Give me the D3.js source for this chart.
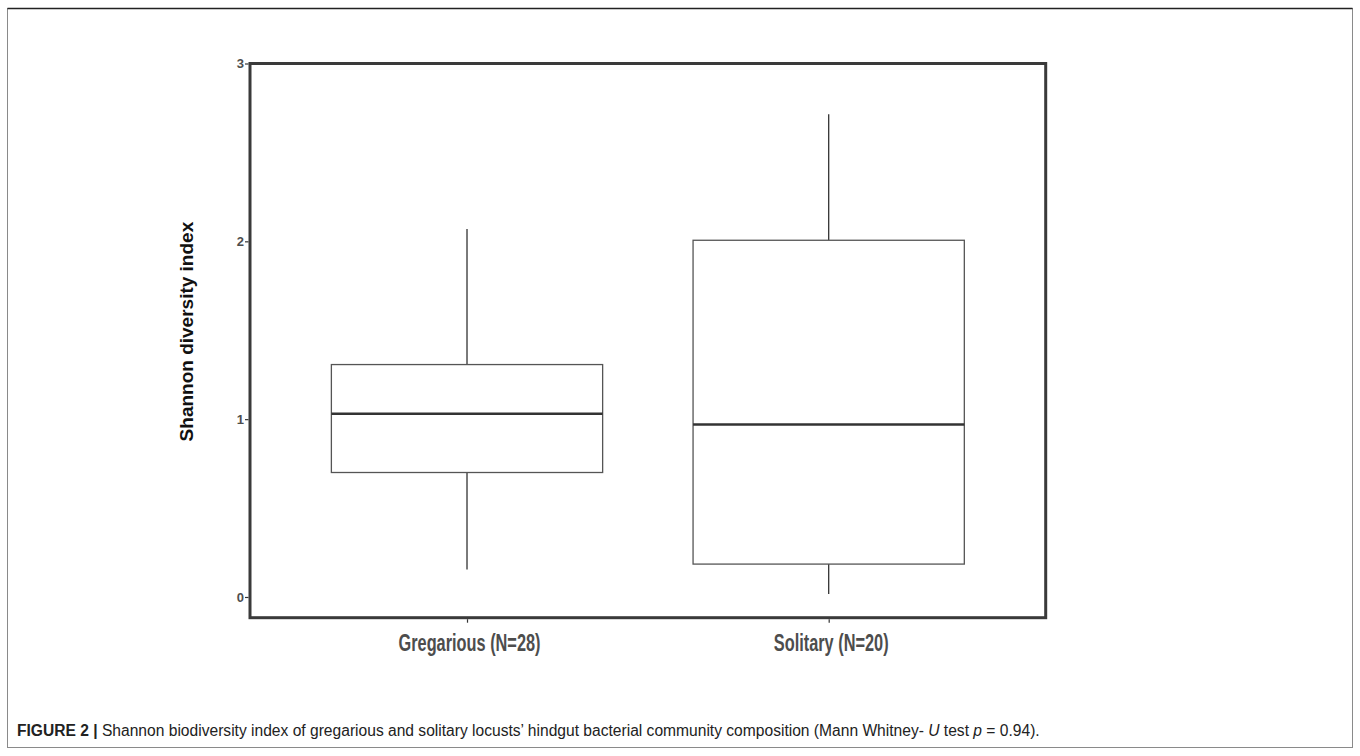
<!DOCTYPE html>
<html>
<head>
<meta charset="utf-8">
<script src="https://cdn.jsdelivr.net/npm/d3@7"></script>
<style>
  html, body { margin: 0; padding: 0; background: #fff; }
  svg { display: block; }
</style>
</head>
<body>
<svg id="chart" width="1360" height="756"></svg>
<script>
// ---- data ----
const groups = ["Gregarious (N=28)", "Solitary (N=20)"];
const whiskerLow = [0.155, 0.017];
const q1 = [0.70, 0.185];
const median = [1.03, 0.97];
const q3 = [1.307, 2.006];
const whiskerHigh = [2.07, 2.715];
const yTicks = [0, 1, 2, 3];
const yTitle = "Shannon diversity index";

const data = groups.map((g, i) => ({
  g, lo: whiskerLow[i], q1: q1[i], med: median[i], q3: q3[i], hi: whiskerHigh[i]
}));

const svg = d3.select("#chart");

// outer figure border
svg.append("rect").attr("x", 7.5).attr("y", 8.5).attr("width", 1345).attr("height", 739)
  .attr("fill", "none").attr("stroke", "#8a8a8a").attr("stroke-width", 1);
svg.append("line").attr("x1", 7.5).attr("x2", 1352.5).attr("y1", 8.5).attr("y2", 8.5)
  .attr("stroke", "#222").attr("stroke-width", 1.3);

const panel = { left: 250, right: 1045.7, top: 63.5, bottom: 617.7 };

const y = d3.scaleLinear().domain([-0.1165, 3.0]).range([panel.bottom, panel.top]);
const x = d3.scalePoint().domain(groups).range([panel.left, panel.right]).padding(0.6);
const bw = x.step() * 0.75;

const narrow = "'Liberation Sans', Arial, sans-serif";

const g = svg.append("g");

data.forEach(d => {
  const cx = x(d.g);
  // whiskers
  g.append("line").attr("x1", cx).attr("x2", cx).attr("y1", y(d.q3)).attr("y2", y(d.hi))
    .attr("stroke", "#333").attr("stroke-width", 1.3);
  g.append("line").attr("x1", cx).attr("x2", cx).attr("y1", y(d.q1)).attr("y2", y(d.lo))
    .attr("stroke", "#333").attr("stroke-width", 1.3);
  // box
  g.append("rect").attr("x", cx - bw / 2).attr("y", y(d.q3)).attr("width", bw)
    .attr("height", y(d.q1) - y(d.q3))
    .attr("fill", "#fff").attr("stroke", "#555").attr("stroke-width", 1.3);
  // median
  g.append("line").attr("x1", cx - bw / 2).attr("x2", cx + bw / 2).attr("y1", y(d.med)).attr("y2", y(d.med))
    .attr("stroke", "#333").attr("stroke-width", 2.4);
});

// panel border
svg.append("rect").attr("x", panel.left).attr("y", panel.top)
  .attr("width", panel.right - panel.left).attr("height", panel.bottom - panel.top)
  .attr("fill", "none").attr("stroke", "#3a3a3a").attr("stroke-width", 3);

// y axis
const yAxis = svg.append("g").attr("transform", `translate(${panel.left - 1.5},0)`)
  .call(d3.axisLeft(y).tickValues(yTicks).tickFormat(d3.format("d")).tickSize(3.5).tickPadding(1));
yAxis.select(".domain").remove();
yAxis.selectAll("line").attr("stroke", "#333").attr("stroke-width", 1.2);
yAxis.selectAll("text").attr("fill", "#4d4d4d")
  .style("font-family", narrow)
  .style("font-weight", "bold").style("font-size", "13px");

// x axis
const xAxis = svg.append("g").attr("transform", `translate(0,${panel.bottom + 1.5})`)
  .call(d3.axisBottom(x).tickSize(3.5));
xAxis.select(".domain").remove();
xAxis.selectAll("line").attr("stroke", "#333").attr("stroke-width", 1.2);
xAxis.selectAll("text")
  .attr("y", 0).attr("dy", 0)
  .attr("transform", "translate(2,32) scale(0.71,1)")
  .attr("fill", "#4d4d4d")
  .style("font-family", narrow)
  .style("font-weight", "bold").style("font-size", "23px");

// y title
svg.append("text")
  .attr("transform", `translate(193,${(panel.top + panel.bottom) / 2 - 9}) rotate(-90)`)
  .attr("text-anchor", "middle")
  .style("font-family", "'Liberation Sans', Arial, sans-serif")
  .style("font-weight", "bold").style("font-size", "19px")
  .attr("fill", "#111")
  .text(yTitle);

// caption
const cap = svg.append("text").attr("x", 17).attr("y", 736)
  .style("font-family", "'Liberation Sans', Arial, sans-serif").style("font-size", "15.6px")
  .attr("fill", "#222");
cap.append("tspan").style("font-weight", "bold").text("FIGURE 2 | ");
cap.append("tspan").text("Shannon biodiversity index of gregarious and solitary locusts\u2019 hindgut bacterial community composition (Mann Whitney- ");
cap.append("tspan").style("font-style", "italic").text("U");
cap.append("tspan").text(" test ");
cap.append("tspan").style("font-style", "italic").text("p");
cap.append("tspan").text(" = 0.94).");
</script>
</body>
</html>
